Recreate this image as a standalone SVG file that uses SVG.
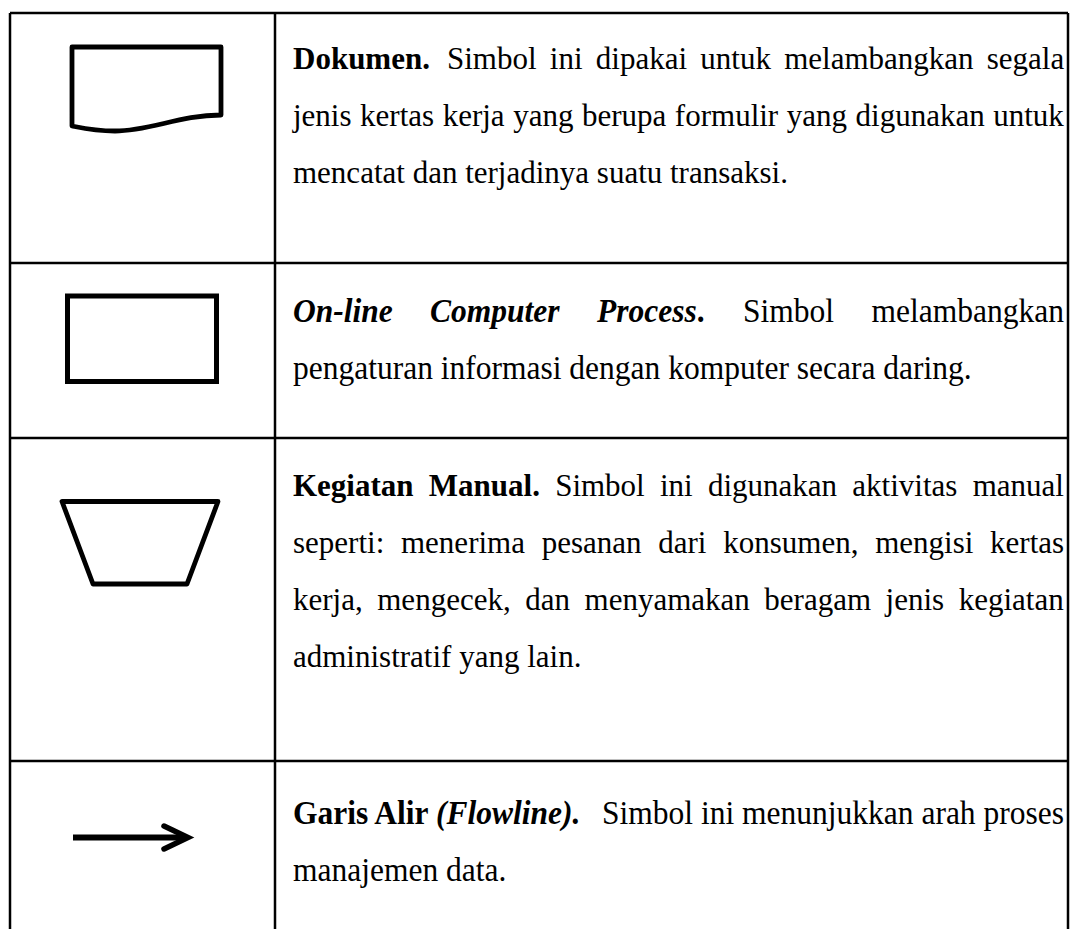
<svg xmlns="http://www.w3.org/2000/svg" width="1071" height="929" viewBox="0 0 1071 929">
<style>
  .grid { stroke: #000; stroke-width: 2.5; fill: none; }
  .sym { stroke: #000; stroke-width: 4.8; fill: none; stroke-linejoin: round; stroke-linecap: round; }
  text { font-family: "Liberation Serif", "Times New Roman", serif; font-size: 31px; fill: #000; }
  .t2 { font-size: 31.5px; }
  .b { font-weight: bold; }
  .bi { font-weight: bold; font-style: italic; }
</style>
<rect width="1071" height="929" fill="#fff"/>
<g id="table" class="grid">
  <line x1="10" y1="13" x2="1068" y2="13"/>
  <line x1="10" y1="13" x2="10" y2="929"/>
  <line x1="275" y1="13" x2="275" y2="929"/>
  <line x1="1068" y1="13" x2="1068" y2="929"/>
  <line x1="10" y1="263" x2="1068" y2="263"/>
  <line x1="10" y1="438" x2="1068" y2="438"/>
  <line x1="10" y1="761" x2="1068" y2="761"/>
</g>
<g id="sym-dokumen">
  <path class="sym" d="M72,47 L221,47 L221,115 C180,115 150,131 115,131 C95,131 82,128 72,126 Z"/>
</g>
<g id="sym-process">
  <rect x="67.5" y="296" width="149" height="85.5" fill="none" stroke="#000" stroke-width="5"/>
</g>
<g id="sym-manual">
  <path class="sym" d="M62,501.5 L218,501.5 L187,584 L93,584 Z"/>
</g>
<g id="sym-flowline">
  <line x1="73" y1="837.5" x2="186" y2="837.5" stroke="#000" stroke-width="6"/>
  <path d="M164,826 L188,837.5 L164,849" fill="none" stroke="#000" stroke-width="5.5" stroke-linecap="round" stroke-linejoin="miter"/>
</g>
<g id="desc-dokumen">
  <text x="293" y="69" class="b">Dokumen.</text>
  <text x="447" y="69" word-spacing="5.5">Simbol ini dipakai untuk melambangkan segala</text>
  <text x="293" y="126" word-spacing="0.8">jenis kertas kerja yang berupa formulir yang digunakan untuk</text>
  <text x="293" y="183">mencatat dan terjadinya suatu transaksi.</text>
</g>
<g id="desc-process">
  <text class="t2 bi" x="293" y="0" transform="translate(0,322) scale(1,1.1)">On-line</text>
  <text class="t2 bi" x="430" y="0" transform="translate(0,322) scale(1,1.1)">Computer</text>
  <text class="t2" x="597" y="0" transform="translate(0,322) scale(1,1.1)"><tspan class="bi">Process</tspan><tspan class="b">.</tspan></text>
  <text class="t2" x="743" y="0" transform="translate(0,322) scale(1,1.1)">Simbol</text>
  <text class="t2" x="1064" y="0" text-anchor="end" transform="translate(0,322) scale(1,1.1)">melambangkan</text>
  <text class="t2" x="293" y="0" transform="translate(0,379) scale(1,1.1)">pengaturan informasi dengan komputer secara daring.</text>
</g>
<g id="desc-manual">
  <text x="293" y="496" word-spacing="7.5"><tspan class="b">Kegiatan Manual.</tspan> Simbol ini digunakan aktivitas manual</text>
  <text x="293" y="553" word-spacing="9">seperti: menerima pesanan dari konsumen, mengisi kertas</text>
  <text x="293" y="610" word-spacing="6.8">kerja, mengecek, dan menyamakan beragam jenis kegiatan</text>
  <text x="293" y="667">administratif yang lain.</text>
</g>
<g id="desc-flowline">
  <text class="t2" x="293" y="0" transform="translate(0,824) scale(1,1.1)"><tspan class="b">Garis Alir </tspan><tspan class="bi">(Flowline).</tspan></text>
  <text class="t2" x="1064" y="0" text-anchor="end" transform="translate(0,824) scale(1,1.1)">Simbol ini menunjukkan arah proses</text>
  <text class="t2" x="293" y="0" transform="translate(0,881) scale(1,1.1)">manajemen data.</text>
</g>
</svg>
